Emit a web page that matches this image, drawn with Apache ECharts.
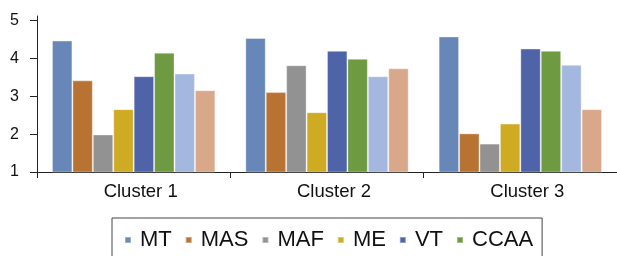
<!DOCTYPE html>
<html>
<head>
<meta charset="utf-8">
<script src="https://cdn.jsdelivr.net/npm/echarts@6/dist/echarts.min.js"></script>
<style>
  html, body { margin: 0; padding: 0; background: #fff; }
  #c { width: 617px; height: 256px; }
</style>
</head>
<body>
<div id="c"></div>
<script>
var clusters = ['Cluster 1', 'Cluster 2', 'Cluster 3'];
var yTicks = [1, 2, 3, 4, 5];

var mt   = [4.47, 4.54, 4.58];
var mas  = [3.42, 3.11, 2.02];
var maf  = [1.99, 3.82, 1.75];
var me   = [2.66, 2.58, 2.28];
var vt   = [3.53, 4.20, 4.26];
var ccaa = [4.15, 3.99, 4.20];
var s7   = [3.60, 3.53, 3.83];
var s8   = [3.16, 3.74, 2.66];

var names  = ['MT', 'MAS', 'MAF', 'ME', 'VT', 'CCAA', 'Series 7', 'Series 8'];
var values = [mt, mas, maf, me, vt, ccaa, s7, s8];
var colors = ['#6687b8', '#b87333', '#929292', '#cfab24', '#4e63a8', '#6e9a42', '#a4b8df', '#d9a88a'];

var series = [];
for (var i = 0; i < names.length; i++) {
  series.push({
    name: names[i],
    type: 'bar',
    data: values[i],
    barGap: '0%',
    barCategoryGap: '15.5%',
    itemStyle: { color: colors[i], borderColor: 'rgba(255,255,255,0.35)', borderWidth: 1 }
  });
}

var myChart = echarts.init(document.getElementById('c'));
var option = {
  animation: false,
  color: colors,
  grid: { left: 37, right: 0, top: 16, bottom: 84, containLabel: false },
  xAxis: {
    type: 'category',
    data: clusters,
    axisLine: { lineStyle: { color: '#222', width: 1 } },
    axisTick: { show: true, length: 6, lineStyle: { color: '#222' } },
    axisLabel: {
      fontFamily: 'Liberation Sans, Arial, sans-serif',
      fontSize: 18.5, color: '#111', margin: 10,
      padding: [0, 0, 0, 14]
    }
  },
  yAxis: {
    type: 'value',
    min: 1,
    max: 5.12,
    axisLine: { show: true, lineStyle: { color: '#222', width: 1 } },
    axisTick: { show: true, length: 7, customValues: yTicks, lineStyle: { color: '#222' } },
    axisLabel: {
      customValues: yTicks,
      fontFamily: 'Liberation Sans, Arial, sans-serif',
      fontSize: 16, color: '#111', margin: 18
    },
    splitLine: { show: false }
  },
  legend: {
    data: ['MT', 'MAS', 'MAF', 'ME', 'VT', 'CCAA'],
    left: 112,
    top: 218,
    padding: [11, 9, 30, 12],
    borderColor: '#444',
    borderWidth: 1,
    icon: 'rect',
    itemWidth: 6,
    itemHeight: 6,
    itemGap: 13,
    textStyle: {
      fontFamily: 'Liberation Sans, Arial, sans-serif',
      fontSize: 22, color: '#111',
      padding: [0, 0, 0, 4]
    }
  },
  series: series
};
option && myChart.setOption(option);
</script>
</body>
</html>
